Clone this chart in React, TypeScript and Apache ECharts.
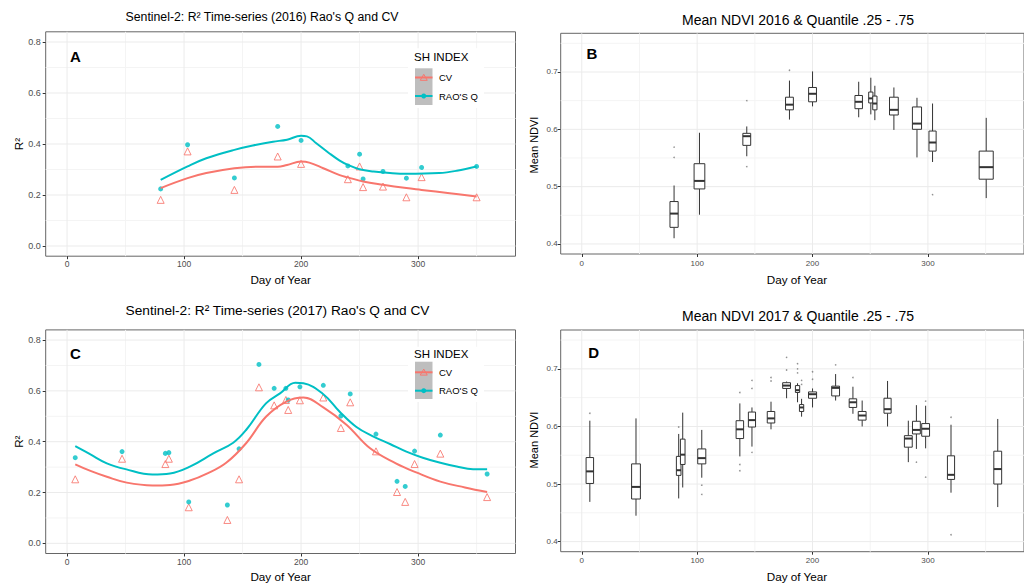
import React, { useEffect, useRef } from "react";
import * as echarts from "echarts";

const FONT = '"Liberation Sans", Arial, Helvetica, sans-serif';

// ---------- axes ----------
const dayRange = [-18.25, 383.25];
const r2Range = [-0.04, 0.84];
const ndviRange = [0.3825, 0.7675];
const dayTicks = [0, 100, 200, 300];
const dayMinorTicks = [50, 150, 250, 350];
const r2Ticks = [0, 0.2, 0.4, 0.6, 0.8];
const r2MinorTicks = [0.1, 0.3, 0.5, 0.7];
const ndviTicks = [0.4, 0.5, 0.6, 0.7];
const ndviMinorTicks = [0.45, 0.55, 0.65, 0.75];

// ---------- Panel A : 2016 R² ----------
const daysA = [80, 103, 143, 180, 200, 240, 250, 253, 270, 290, 303, 350];
const raoA = [0.224, 0.397, 0.267, 0.469, 0.414, 0.314, 0.36, 0.263, 0.292, 0.266, 0.308, 0.312];
const cvA = [0.181, 0.371, 0.22, 0.351, 0.322, 0.262, 0.312, 0.231, 0.233, 0.191, 0.27, 0.191];
const raoFitDaysA = [80, 103, 119, 143, 162, 176, 188, 200, 205, 213, 224, 233, 240, 250, 262, 276, 290, 318, 333, 350];
const raoFitA = [0.259, 0.312, 0.344, 0.377, 0.397, 0.409, 0.417, 0.432, 0.43, 0.403, 0.364, 0.335, 0.318, 0.301, 0.292, 0.286, 0.283, 0.286, 0.295, 0.312];
const cvFitDaysA = [80, 103, 119, 143, 162, 180, 188, 200, 207, 219, 233, 240, 253, 270, 290, 303, 327, 350];
const cvFitA = [0.227, 0.266, 0.286, 0.305, 0.311, 0.311, 0.318, 0.331, 0.327, 0.305, 0.278, 0.269, 0.253, 0.24, 0.227, 0.22, 0.207, 0.194];

// ---------- Panel C : 2017 R² ----------
const daysC = [7, 47, 84, 87, 104, 137, 147, 164, 177, 187, 189, 199, 219, 234, 242, 264, 282, 289, 297, 319, 359];
const raoC = [0.337, 0.361, 0.354, 0.357, 0.163, 0.151, 0.372, 0.704, 0.61, 0.61, 0.564, 0.616, 0.622, 0.501, 0.588, 0.43, 0.244, 0.224, 0.363, 0.426, 0.273];
const cvC = [0.252, 0.333, 0.312, 0.333, 0.142, 0.092, 0.252, 0.614, 0.543, 0.564, 0.525, 0.563, 0.574, 0.454, 0.555, 0.362, 0.202, 0.163, 0.312, 0.353, 0.182];
const raoFitDaysC = [7, 20, 34, 50, 73, 88, 105, 125, 142, 153, 170, 182, 195, 202, 219, 233, 247, 261, 276, 290, 304, 319, 333, 347, 359];
const raoFitC = [0.383, 0.35, 0.315, 0.292, 0.271, 0.275, 0.302, 0.354, 0.396, 0.446, 0.551, 0.59, 0.632, 0.63, 0.587, 0.518, 0.459, 0.422, 0.391, 0.361, 0.337, 0.317, 0.302, 0.292, 0.292];
const cvFitDaysC = [7, 20, 34, 51, 73, 88, 105, 120, 136, 153, 170, 187, 202, 219, 239, 259, 281, 299, 319, 340, 359];
const cvFitC = [0.311, 0.285, 0.262, 0.239, 0.228, 0.23, 0.247, 0.275, 0.317, 0.394, 0.498, 0.557, 0.574, 0.535, 0.466, 0.374, 0.315, 0.278, 0.243, 0.22, 0.202];

// ---------- Panel B : NDVI 2016 boxes [day, boxWidth(days), low, q1, median, q3, high] ----------
const ndviBoxes2016 = [
  [80, 7.1, 0.41, 0.429, 0.453, 0.474, 0.502],
  [102, 9.3, 0.451, 0.496, 0.51, 0.54, 0.594],
  [143, 6.8, 0.553, 0.572, 0.588, 0.593, 0.605],
  [180, 6.8, 0.617, 0.634, 0.643, 0.656, 0.685],
  [200, 6.8, 0.64, 0.648, 0.662, 0.673, 0.701],
  [240, 6.5, 0.621, 0.636, 0.648, 0.659, 0.683],
  [250.5, 3.7, 0.626, 0.646, 0.654, 0.665, 0.69],
  [254, 3.7, 0.616, 0.634, 0.645, 0.658, 0.676],
  [270.5, 7.6, 0.599, 0.625, 0.634, 0.656, 0.673],
  [290.5, 7.9, 0.551, 0.6, 0.61, 0.639, 0.655],
  [304, 6.2, 0.543, 0.562, 0.577, 0.597, 0.645],
  [350.5, 12.2, 0.48, 0.513, 0.534, 0.562, 0.62],
];
const ndviOutliers2016 = [
  [80, 0.569], [80, 0.551], [143, 0.65], [143, 0.535], [180, 0.703], [304, 0.486],
];

// ---------- Panel D : NDVI 2017 boxes ----------
const ndviBoxes2017 = [
  [7, 6.5, 0.469, 0.501, 0.522, 0.546, 0.61],
  [47, 7.6, 0.445, 0.474, 0.495, 0.535, 0.614],
  [84, 4, 0.475, 0.515, 0.524, 0.548, 0.587],
  [87.5, 4, 0.494, 0.534, 0.551, 0.578, 0.624],
  [104, 7, 0.511, 0.535, 0.545, 0.561, 0.594],
  [137, 6.5, 0.548, 0.579, 0.595, 0.61, 0.64],
  [147.5, 6.2, 0.565, 0.599, 0.611, 0.625, 0.633],
  [164, 6.5, 0.595, 0.606, 0.614, 0.626, 0.643],
  [177.5, 6.8, 0.649, 0.666, 0.671, 0.676, 0.678],
  [187, 3.7, 0.642, 0.659, 0.663, 0.671, 0.675],
  [190.5, 3.7, 0.617, 0.626, 0.633, 0.638, 0.648],
  [200, 7, 0.633, 0.649, 0.656, 0.66, 0.666],
  [220, 6.8, 0.645, 0.653, 0.667, 0.67, 0.691],
  [235, 6.5, 0.622, 0.633, 0.642, 0.648, 0.669],
  [243, 6.8, 0.6, 0.611, 0.619, 0.626, 0.645],
  [265, 6.2, 0.6, 0.623, 0.63, 0.649, 0.679],
  [283, 6.8, 0.538, 0.564, 0.579, 0.584, 0.61],
  [290, 6.8, 0.561, 0.587, 0.594, 0.609, 0.637],
  [298, 6.8, 0.562, 0.583, 0.596, 0.605, 0.636],
  [320, 6.2, 0.485, 0.508, 0.516, 0.549, 0.603],
  [360.5, 6.8, 0.46, 0.5, 0.526, 0.557, 0.613],
];
const ndviOutliers2017 = [
  [7, 0.623], [84, 0.599], [104, 0.498], [104, 0.482], [137, 0.659], [137, 0.534], [137, 0.523],
  [147.5, 0.68], [147.5, 0.666], [147.5, 0.555], [164, 0.685], [164, 0.679], [177.5, 0.72], [177.5, 0.698],
  [187, 0.709], [187, 0.7], [187, 0.693], [190.5, 0.68], [190.5, 0.673], [200, 0.695], [200, 0.682],
  [220, 0.707], [235, 0.685], [290, 0.538], [298, 0.644], [298, 0.512], [320, 0.616], [320, 0.412],
];

const RED = "#F8766D";
const CYAN = "#00BFC4";

const zip = (xs: number[], ys: number[]) => xs.map((x, i) => [x, ys[i]]);

function gridLineSeries(idx: number, xMaj: number[], xMin: number[], yMaj: number[], yMin: number[]) {
  const data: number[][] = [];
  xMin.forEach((v) => data.push([0, v, 0]));
  yMin.forEach((v) => data.push([1, v, 0]));
  xMaj.forEach((v) => data.push([0, v, 1]));
  yMaj.forEach((v) => data.push([1, v, 1]));
  return {
    type: "custom",
    xAxisIndex: idx,
    yAxisIndex: idx,
    silent: true,
    z: 0,
    encode: { x: -1, y: -1 },
    data,
    renderItem: (params: any, api: any) => {
      const cs = params.coordSys;
      const kind = api.value(0);
      const v = api.value(1);
      const major = api.value(2) === 1;
      const style = { stroke: major ? "#EBEBEB" : "#F4F4F4", lineWidth: 1 };
      if (kind === 0) {
        const px = api.coord([v, 0.5])[0];
        return { type: "line", shape: { x1: px, y1: cs.y, x2: px, y2: cs.y + cs.height }, style };
      }
      const py = api.coord([100, v])[1];
      return { type: "line", shape: { x1: cs.x, y1: py, x2: cs.x + cs.width, y2: py }, style };
    },
  };
}

const boxRender = (params: any, api: any) => {
  const x = api.value(0);
  const w = api.value(1);
  const pLo = api.coord([x, api.value(2)]);
  const pQ1 = api.coord([x, api.value(3)]);
  const pMed = api.coord([x, api.value(4)]);
  const pQ3 = api.coord([x, api.value(5)]);
  const pHi = api.coord([x, api.value(6)]);
  const half = api.size([w, 0])[0] / 2;
  const cx = pMed[0];
  const s = { stroke: "#333333", lineWidth: 1 };
  return {
    type: "group",
    children: [
      { type: "line", shape: { x1: cx, y1: pHi[1], x2: cx, y2: pQ3[1] }, style: s },
      { type: "line", shape: { x1: cx, y1: pQ1[1], x2: cx, y2: pLo[1] }, style: s },
      { type: "rect", shape: { x: cx - half, y: pQ3[1], width: half * 2, height: pQ1[1] - pQ3[1] }, style: { fill: "#FFFFFF", ...s } },
      { type: "line", shape: { x1: cx - half, y1: pMed[1], x2: cx + half, y2: pMed[1] }, style: { stroke: "#333333", lineWidth: 2 } },
    ],
  };
};

function xAxis(gridIndex: number, fontSize: number, margin: number) {
  return {
    type: "value",
    gridIndex,
    min: dayRange[0],
    max: dayRange[1],
    axisLine: { show: false, onZero: false },
    splitLine: { show: false },
    axisTick: { show: true, customValues: dayTicks, length: 3, lineStyle: { color: "#333333", width: 1 } },
    axisLabel: { customValues: dayTicks, fontSize, color: "#4D4D4D", margin, fontFamily: FONT, formatter: (v: number) => String(v) },
  };
}

function yAxis(gridIndex: number, range: number[], ticks: number[], fontSize: number, margin: number) {
  return {
    type: "value",
    gridIndex,
    min: range[0],
    max: range[1],
    axisLine: { show: false, onZero: false },
    splitLine: { show: false },
    axisTick: { show: true, customValues: ticks, length: 3, lineStyle: { color: "#333333", width: 1 } },
    axisLabel: { customValues: ticks, fontSize, color: "#4D4D4D", margin, fontFamily: FONT, formatter: (v: number) => v.toFixed(1) },
  };
}

function r2Series(idx: number, days: number[], rao: number[], cv: number[], raoFitD: number[], raoFit: number[], cvFitD: number[], cvFit: number[]) {
  return [
    {
      type: "scatter", name: "CV", xAxisIndex: idx, yAxisIndex: idx, symbol: "triangle", symbolSize: 7,
      itemStyle: { color: "rgba(255,255,255,0)", borderColor: RED, borderWidth: 1, opacity: 0.85 },
      data: zip(days, cv), silent: true, z: 3,
    },
    {
      type: "scatter", name: "RAO'S Q", xAxisIndex: idx, yAxisIndex: idx, symbol: "circle", symbolSize: 5,
      itemStyle: { color: CYAN }, data: zip(days, rao), silent: true, z: 3,
    },
    {
      type: "line", xAxisIndex: idx, yAxisIndex: idx, data: zip(cvFitD, cvFit), smooth: 0.4, showSymbol: false,
      lineStyle: { color: RED, width: 2 }, silent: true, z: 4,
    },
    {
      type: "line", xAxisIndex: idx, yAxisIndex: idx, data: zip(raoFitD, raoFit), smooth: 0.4, showSymbol: false,
      lineStyle: { color: CYAN, width: 2 }, silent: true, z: 4,
    },
  ];
}

function boxSeries(idx: number, boxes: number[][], outliers: number[][]) {
  return [
    {
      type: "custom", xAxisIndex: idx, yAxisIndex: idx, data: boxes, renderItem: boxRender,
      encode: { x: 0, y: [2, 3, 4, 5, 6] }, silent: true, z: 3,
    },
    {
      type: "scatter", xAxisIndex: idx, yAxisIndex: idx, data: outliers, symbol: "circle", symbolSize: 1.6,
      itemStyle: { color: "#777777" }, silent: true, z: 3,
    },
  ];
}

function txt(text: string, x: number, y: number, size: number, opts: any = {}) {
  return {
    type: "text",
    x,
    y,
    rotation: opts.rotation || 0,
    silent: true,
    z: 100,
    style: {
      text,
      fill: opts.fill || "#000000",
      font: `${opts.bold ? "bold " : ""}${size}px ${FONT}`,
      align: opts.align || "center",
      verticalAlign: "middle",
    },
  };
}

function legend(boxTop: number, titleY: number, keyTop: number, keyBottom: number, cvY: number, raoY: number) {
  const kx = 415;
  const kw = 17.5;
  const mx = kx + kw / 2;
  return [
    { type: "rect", silent: true, z: 90, shape: { x: 408, y: boxTop, width: 76, height: keyBottom - boxTop + 3 }, style: { fill: "#FFFFFF" } },
    txt("SH INDEX", 414, titleY, 11.5, { align: "left" }),
    { type: "rect", silent: true, z: 91, shape: { x: kx, y: keyTop, width: kw, height: keyBottom - keyTop }, style: { fill: "#BEBEBE" } },
    { type: "line", silent: true, z: 92, shape: { x1: kx, y1: cvY, x2: kx + kw, y2: cvY }, style: { stroke: RED, lineWidth: 2 } },
    { type: "polygon", silent: true, z: 93, shape: { points: [[mx, cvY - 3.2], [mx + 3.5, cvY + 2.8], [mx - 3.5, cvY + 2.8]] }, style: { fill: "none", stroke: RED, lineWidth: 1 } },
    { type: "line", silent: true, z: 92, shape: { x1: kx, y1: raoY, x2: kx + kw, y2: raoY }, style: { stroke: CYAN, lineWidth: 2 } },
    { type: "circle", silent: true, z: 93, shape: { cx: mx, cy: raoY, r: 2.5 }, style: { fill: CYAN } },
    txt("CV", 439, cvY, 9.5, { align: "left" }),
    txt("RAO'S Q", 439, raoY, 9.5, { align: "left" }),
  ];
}

export default function App() {
  const ref = useRef<HTMLDivElement>(null);
  useEffect(() => {
    if (!ref.current) return;
    const chart = echarts.init(ref.current, undefined, { renderer: "svg" });
    const gridStyle = { show: true, borderColor: "#666666", borderWidth: 1, backgroundColor: "#FFFFFF", containLabel: false };
    const option: any = {
      animation: false,
      backgroundColor: "#FFFFFF",
      textStyle: { fontFamily: FONT },
      grid: [
        { ...gridStyle, left: 45.7, top: 31.8, width: 469.8, height: 224.4 },
        { ...gridStyle, left: 560.7, top: 33.3, width: 472.6, height: 220.7 },
        { ...gridStyle, left: 45.7, top: 329.9, width: 469.8, height: 223.6 },
        { ...gridStyle, left: 560.7, top: 330, width: 472.6, height: 221.7 },
      ],
      xAxis: [xAxis(0, 8.5, 3), xAxis(1, 8, 5), xAxis(2, 8.5, 3.5), xAxis(3, 8, 5)],
      yAxis: [
        yAxis(0, r2Range, r2Ticks, 9, 5),
        yAxis(1, ndviRange, ndviTicks, 8, 3),
        yAxis(2, r2Range, r2Ticks, 9, 5),
        yAxis(3, ndviRange, ndviTicks, 8, 3),
      ],
      series: [
        gridLineSeries(0, dayTicks, dayMinorTicks, r2Ticks, r2MinorTicks),
        gridLineSeries(1, dayTicks, dayMinorTicks, ndviTicks, ndviMinorTicks),
        gridLineSeries(2, dayTicks, dayMinorTicks, r2Ticks, r2MinorTicks),
        gridLineSeries(3, dayTicks, dayMinorTicks, ndviTicks, ndviMinorTicks),
        ...r2Series(0, daysA, raoA, cvA, raoFitDaysA, raoFitA, cvFitDaysA, cvFitA),
        ...r2Series(2, daysC, raoC, cvC, raoFitDaysC, raoFitC, cvFitDaysC, cvFitC),
        ...boxSeries(1, ndviBoxes2016, ndviOutliers2016),
        ...boxSeries(3, ndviBoxes2017, ndviOutliers2017),
      ],
      graphic: {
        elements: [
          txt("Sentinel-2: R² Time-series (2016) Rao's Q and CV", 262, 17, 12.3),
          txt("Mean NDVI 2016 & Quantile .25 - .75", 798, 20, 14),
          txt("Sentinel-2: R² Time-series (2017) Rao's Q and CV", 277.5, 310, 13.7),
          txt("Mean NDVI 2017 & Quantile .25 - .75", 798, 316, 14),
          txt("A", 75.3, 56.5, 15, { bold: true }),
          txt("B", 592, 53, 15, { bold: true }),
          txt("C", 75.3, 353, 15, { bold: true }),
          txt("D", 593.7, 352.5, 15, { bold: true }),
          txt("Day of Year", 280.6, 279, 11.7),
          txt("Day of Year", 797, 279, 11.7),
          txt("Day of Year", 280.6, 576, 11.7),
          txt("Day of Year", 797, 576, 11.7),
          txt("R²", 18, 144, 11.7, { rotation: Math.PI / 2 }),
          txt("R²", 18, 441.7, 11.7, { rotation: Math.PI / 2 }),
          txt("Mean NDVI", 534, 145, 11, { rotation: Math.PI / 2 }),
          txt("Mean NDVI", 534, 440, 11, { rotation: Math.PI / 2 }),
          ...legend(48.3, 57, 68.3, 105, 77.5, 96),
          ...legend(346.7, 354, 361.7, 399, 372.3, 390.7),
        ],
      },
    };
    chart.setOption(option);
    return () => chart.dispose();
  }, []);
  return (
    <div
      ref={ref}
      style={{ position: "fixed", left: 0, top: 0, width: 1024, height: 585, background: "#FFFFFF" }}
    />
  );
}
